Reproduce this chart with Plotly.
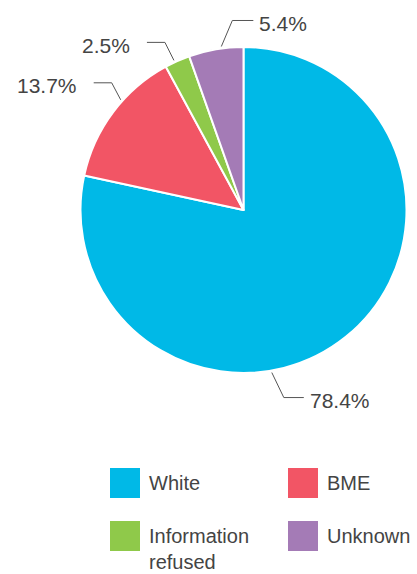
import math
import plotly.graph_objects as go

# Ethnicity breakdown (percent of total)
categories = ["White", "BME", "Information refused", "Unknown"]
legend_labels = ["White", "BME", "Information<br>refused", "Unknown"]
values = [78.4, 13.7, 2.5, 5.4]
colors = ["#00B9E7", "#F25565", "#8FC94A", "#A47BB6"]

W, H = 417, 574
CX, CY, R = 243.5, 210.0, 163.0   # pie centre / radius in pixels

FONT = "Liberation Sans"
TEXT_COLOR = "#444444"
LINE_COLOR = "#555555"

# leader-line tweaks per slice: angular nudge (deg), elbow offset (px), run length (px)
label_shift = [29, 5, -1, 2]
elbow = [(12, 25), (-9, -17), (-9, -18), (11, -26)]
run = [20, -18, -18, 21]


def px(x):
    return x / W


def py(y):
    return 1 - y / H


fig = go.Figure(
    go.Pie(
        labels=categories,
        values=values,
        marker=dict(colors=colors, line=dict(color="white", width=2)),
        sort=False,
        direction="clockwise",
        rotation=0,
        textinfo="none",
        hoverinfo="label+percent",
        showlegend=False,
        domain=dict(x=[px(CX - R), px(CX + R)], y=[py(CY + R), py(CY - R)]),
    )
)

shapes = []
annotations = []

# percentage labels with elbow leader lines
total = sum(values)
cum = 0.0
for i, v in enumerate(values):
    mid = (cum + v / 2) / total * 360 + label_shift[i]
    cum += v
    a = math.radians(mid)
    x0 = CX + (R + 2) * math.sin(a)
    y0 = CY - (R + 2) * math.cos(a)
    x1, y1 = x0 + elbow[i][0], y0 + elbow[i][1]
    x2 = x1 + run[i]
    shapes.append(dict(
        type="path", xref="paper", yref="paper",
        path=f"M {px(x0)},{py(y0)} L {px(x1)},{py(y1)} L {px(x2)},{py(y1)}",
        line=dict(color=LINE_COLOR, width=1),
    ))
    right = run[i] > 0
    annotations.append(dict(
        x=px(x2 + (4 if right else -15)), y=py(y1 + 3),
        xref="paper", yref="paper",
        xanchor="left" if right else "right", yanchor="middle",
        text=f"{v}%", showarrow=False,
        font=dict(family=FONT, size=21, color=TEXT_COLOR),
    ))

# 2x2 legend with large square swatches
cols = [110, 288]
rows = [468, 521]
SW = 30
for i, lab in enumerate(legend_labels):
    sx = cols[i % 2]
    sy = rows[i // 2]
    shapes.append(dict(
        type="rect", xref="paper", yref="paper",
        x0=px(sx), x1=px(sx + SW), y0=py(sy + SW), y1=py(sy),
        fillcolor=colors[i], line=dict(width=0),
    ))
    n_lines = lab.count("<br>") + 1
    ty = sy + SW / 2 + (n_lines - 1) * 13
    annotations.append(dict(
        x=px(sx + 37), y=py(ty), xref="paper", yref="paper",
        xanchor="left", yanchor="middle", align="left",
        text=lab, showarrow=False,
        font=dict(family=FONT, size=20, color=TEXT_COLOR),
    ))

fig.update_layout(
    width=W, height=H,
    margin=dict(l=0, r=0, t=0, b=0),
    paper_bgcolor="white",
    plot_bgcolor="white",
    shapes=shapes,
    annotations=annotations,
)

fig.write_html("out.html")
